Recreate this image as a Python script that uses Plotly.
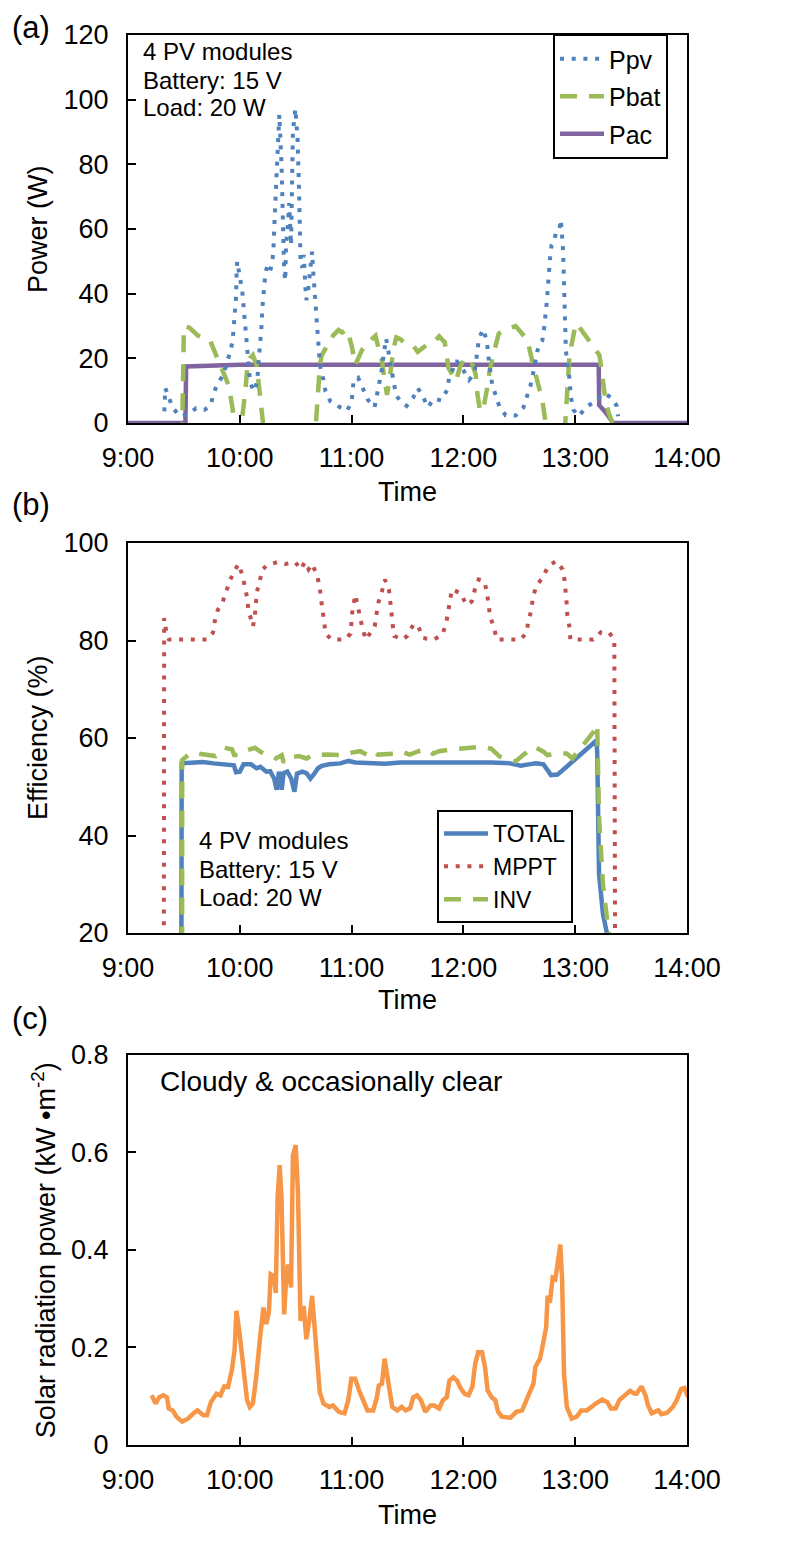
import plotly.graph_objects as go

# ---------------- data (x = minutes after 9:00) ----------------
tick_vals = [0, 60, 120, 180, 240, 300]
tick_text = ["9:00", "10:00", "11:00", "12:00", "13:00", "14:00"]

ppv_min = [19.5, 20.0, 21.8, 23.8, 27.8, 31.7, 36.6, 41.0, 44.4, 45.7,
           47.8, 51.1, 54.3, 55.9, 56.5, 57.0, 57.5, 58.0, 58.3, 58.6,
           60.2, 61.3, 61.8, 62.4, 62.9, 63.4, 64.0, 64.5, 65.0, 65.6,
           67.7, 69.4, 69.9, 70.4, 71.0, 71.5, 71.8, 72.0, 72.6, 73.0,
           73.7, 74.7, 76.3, 77.4, 78.0, 78.6, 79.3, 80.3, 81.2, 82.4,
           83.2, 83.8, 84.4, 84.8, 85.9, 86.5, 87.5, 88.5, 89.8, 91.0,
           91.8, 92.6, 93.5, 94.3, 95.2, 95.7, 96.5, 97.3, 98.2, 98.8,
           99.5, 100.2, 101.0, 101.5, 102.0, 102.5, 103.0, 104.0, 105.0, 106.0,
           108.6, 113.4, 117.5, 120.0, 120.6, 121.1, 123.5, 126.0, 128.7, 132.3,
           133.7, 135.0, 136.0, 136.8, 137.5, 138.5, 139.5, 140.5, 141.5, 142.5,
           143.8, 146.2, 149.5, 152.9, 155.5, 158.4, 161.0, 164.0, 168.0, 171.3,
           172.3, 176.3, 180.0, 183.0, 185.8, 186.8, 187.5, 188.3, 190.6, 192.3,
           193.2, 193.8, 195.5, 197.3, 199.3, 202.7, 208.0, 212.2, 214.3, 216.0,
           218.0, 219.7, 221.0, 222.4, 223.3, 223.7, 224.6, 225.1, 225.4, 226.0,
           226.5, 227.3, 228.6, 229.6, 231.4, 232.3, 233.1, 233.3, 233.6, 233.8,
           234.0, 234.1, 234.3, 234.5, 234.7, 234.8, 235.0, 236.7, 237.3, 237.8,
           239.0, 242.0, 245.7, 250.2, 255.2, 259.1, 262.2, 263.0]
ppv_w = [3.6, 10.8, 8.2, 4.9, 2.1, 2.5, 4.6, 4.1, 5.5, 8.6,
         12.0, 14.8, 21.0, 24.6, 28.0, 32.0, 35.7, 39.0, 46.8, 50.0,
         44.6, 41.0, 37.5, 34.0, 30.0, 26.7, 22.8, 19.4, 16.3, 12.3,
         9.8, 13.2, 17.5, 21.0, 24.0, 27.7, 31.0, 35.0, 38.8, 42.5,
         46.0, 48.6, 47.0, 49.8, 53.0, 62.0, 72.0, 85.0, 95.4, 80.0,
         60.0, 47.0, 44.0, 55.0, 62.0, 68.0, 55.0, 90.0, 97.2, 88.0,
         72.0, 50.0, 48.0, 52.0, 42.0, 38.0, 40.0, 44.0, 50.0, 53.0,
         46.0, 40.0, 35.0, 30.0, 26.0, 22.0, 18.0, 15.0, 13.3, 9.8,
         6.7, 5.0, 3.8, 6.4, 9.7, 13.3, 14.0, 11.0, 7.2, 4.9,
         8.7, 12.0, 15.7, 19.3, 23.0, 26.2, 23.0, 19.3, 15.7, 12.0,
         8.7, 6.7, 5.3, 7.7, 10.8, 8.0, 4.9, 7.5, 7.0, 10.2,
         13.8, 19.3, 16.3, 13.3, 15.2, 19.0, 22.2, 26.0, 29.0, 26.0,
         22.2, 18.5, 11.8, 8.7, 5.1, 2.4, 2.3, 4.8, 8.1, 11.6,
         17.0, 22.3, 24.5, 25.6, 29.2, 32.8, 36.4, 40.0, 43.8, 47.4,
         51.0, 54.9, 55.9, 58.8, 59.5, 62.9, 58.5, 55.4, 51.3, 47.7,
         44.0, 40.4, 36.7, 33.1, 29.4, 25.8, 22.3, 14.9, 11.3, 7.7,
         4.1, 2.1, 4.9, 6.5, 9.2, 8.0, 5.4, 2.1]

pbat_min = [29.0, 29.5, 30.0, 33.0, 37.6, 44.0, 47.5, 52.0, 54.0, 56.0,
            57.0, 58.5, 60.5, 62.0, 63.0, 64.0, 65.5, 67.0, 69.0, 70.0,
            71.0, 72.0, 73.5, 80.0, 90.0, 98.0, 100.5, 101.5, 103.0, 104.0,
            107.0, 110.0, 113.0, 115.0, 117.6, 120.0, 122.0, 125.6, 129.0, 132.8,
            134.5, 136.4, 137.5, 139.0, 140.5, 142.5, 144.0, 146.0, 149.0, 153.0,
            155.5, 158.6, 161.0, 164.0, 167.0, 170.0, 172.0, 174.0, 176.0, 178.0,
            180.0, 182.0, 184.0, 186.6, 187.5, 189.0, 190.5, 192.5, 194.0, 196.4,
            199.0, 203.0, 208.0, 211.0, 214.4, 217.0, 219.4, 221.0, 222.4, 224.0,
            226.0, 232.0, 234.0, 235.0, 236.0, 236.7, 238.0, 240.3, 243.0, 246.6,
            250.0, 253.0, 254.0, 256.0, 258.0, 260.0]
pbat_w = [-5, 10, 30, 29.5, 27, 25.6, 21, 14.5, 11.7, 5,
          0, -8, -2, 4, 10, 17, 20, 21, 18, 13,
          6, 0, -12, -40, -45, -20, -3, 5, 18, 21,
          24, 27, 28.8, 28, 29, 24, 18, 22.6, 25, 27,
          23, 19, 14, 8.7, 14, 23, 26.5, 26, 24.5, 24,
          22, 23.5, 24.5, 25, 26.8, 25, 17, 15, 13, 17,
          19.5, 20, 19.5, 15, 9, 3.7, 4, 10, 16, 22,
          27.7, 29, 30, 28, 25.5, 19, 13, 9, 6.8, 0.6,
          -15, -25, -5, 5, 10.8, 19, 24, 30.8, 29, 26,
          23, 21, 17, 8, 3, 0]

pac_min = [0, 30.8, 31.2, 60, 252.6, 252.9, 256, 259, 260.5, 300]
pac_w = [0, 0, 17.5, 18, 18, 5.5, 3.5, 1, 0, 0]

mppt_min = [19.2, 19.4, 20.6, 22.0, 42.5, 45.6, 46.6, 48.2, 50.7, 52.7,
            54.8, 57.3, 59.3, 61.4, 63.0, 64.0, 64.6, 66.0, 67.1, 68.1,
            68.7, 69.2, 70.8, 72.2, 74.9, 80.4, 84.5, 89.7, 92.8, 94.8,
            96.9, 98.9, 101.6, 103.0, 103.6, 104.5, 105.0, 106.1, 109.2, 116.4,
            119.4, 120.5, 122.0, 124.2, 125.6, 127.6, 132.4, 133.2, 134.4, 136.5,
            137.9, 140.0, 141.0, 141.4, 142.0, 143.0, 147.5, 150.0, 153.3, 155.8,
            158.4, 164.0, 168.7, 170.7, 171.8, 172.8, 173.8, 178.5, 181.6, 184.5,
            186.1, 188.2, 191.3, 192.7, 193.3, 194.3, 196.4, 198.0, 210.8, 213.8,
            214.9, 216.5, 217.3, 219.0, 222.7, 225.5, 229.6, 233.3, 234.3, 235.0,
            235.4, 235.8, 237.0, 237.4, 249.7, 253.8, 258.0, 261.0, 261.5]
mppt_eff = [0, 84.6, 81.8, 80.2, 80.2, 81.6, 84.0, 86.3, 87.8, 90.0,
            92.4, 94.4, 95.7, 93.4, 91.0, 88.7, 86.3, 84.0, 82.9, 85.3,
            87.7, 90.0, 92.4, 94.6, 95.5, 96.1, 95.7, 96.1, 94.6, 96.1,
            94.6, 95.7, 93.2, 90.7, 88.5, 86.2, 83.7, 81.4, 80.2, 80.2,
            81.4, 86.3, 89.4, 85.3, 82.9, 80.2, 82.9, 85.0, 87.8, 90.4,
            92.5, 90.5, 88.0, 85.8, 83.3, 80.9, 80.2, 81.0, 83.4, 82.9,
            80.5, 80.2, 81.2, 83.5, 85.8, 88.3, 90.5, 89.7, 87.3, 88.0,
            90.4, 92.5, 92.1, 89.7, 87.1, 85.0, 82.6, 80.2, 80.2, 81.6,
            84.0, 86.3, 88.9, 91.0, 93.1, 95.2, 96.3, 94.6, 92.4, 90.0,
            87.7, 85.1, 82.6, 80.2, 80.2, 81.7, 81.7, 80.2, 0]

total_min = [28.6, 28.8, 36.0, 40.0, 46.0, 56.8, 58.0, 60.0, 62.0, 66.0,
             69.0, 71.0, 74.3, 76.3, 78.4, 79.8, 81.0, 82.5, 83.5, 85.5,
             87.6, 89.3, 90.7, 93.5, 95.8, 97.9, 100.0, 102.0, 104.0, 108.0,
             114.0, 118.4, 122.0, 128.0, 138.0, 146.0, 155.0, 163.0, 172.0, 185.0,
             195.0, 205.0, 210.8, 215.0, 219.0, 223.0, 225.0, 227.0, 230.5, 233.3,
             235.4, 239.5, 243.6, 247.7, 251.4, 251.8, 252.2, 252.8, 254.9, 257.0, 257.5]
total_eff = [0, 54.8, 55.0, 55.1, 54.8, 54.4, 53.0, 53.1, 54.6, 54.6,
             53.8, 54.1, 53.1, 53.2, 51.7, 49.4, 53.1, 49.4, 52.8, 53.1,
             51.7, 49.0, 52.7, 53.1, 52.8, 51.7, 52.7, 53.8, 54.3, 54.6,
             54.8, 55.3, 55.0, 54.8, 54.7, 55.0, 55.0, 55.1, 55.0, 55.0,
             55.0, 54.8, 54.3, 54.6, 54.8, 54.6, 53.4, 52.4, 52.5, 53.6,
             54.1, 55.5, 56.8, 58.2, 59.5, 57.2, 43.6, 32.1, 23.9, 20.0, 0]

inv_min = [29.0, 29.1, 32.2, 35.0, 37.3, 42.0, 47.0, 51.7, 55.8, 57.0,
           60.0, 64.0, 68.1, 71.0, 74.3, 77.0, 79.4, 82.5, 83.5, 86.0,
           91.7, 95.8, 99.0, 107.1, 115.3, 120.0, 124.6, 128.7, 131.0, 134.0,
           140.0, 144.0, 147.0, 151.2, 156.0, 160.5, 163.6, 167.0, 172.0, 180.0,
           190.2, 195.0, 199.5, 204.6, 208.0, 213.0, 218.0, 223.0, 225.0, 230.0,
           235.4, 238.5, 241.5, 245.0, 249.7, 251.8, 252.3, 252.8, 254.9, 257.0,
           258.0, 258.2]
inv_eff = [0, 55.5, 56.5, 57.0, 56.8, 56.5, 56.3, 58.0, 57.7, 56.5,
           56.5, 57.5, 58.0, 57.2, 56.5, 56.3, 55.8, 56.5, 55.0, 56.0,
           56.3, 55.8, 56.5, 56.6, 56.5, 57.0, 57.3, 56.5, 57.3, 56.6,
           56.8, 56.8, 57.2, 56.6, 57.3, 57.7, 56.8, 57.3, 57.6, 57.8,
           58.2, 57.8, 56.2, 55.5, 55.2, 56.8, 58.2, 57.2, 56.5, 56.8,
           56.8, 55.8, 57.2, 59.0, 61.2, 62.8, 55.8, 43.6, 30.0, 21.9,
           20.0, 0]

solar_min = [12.7, 14.8, 16.8, 18.9, 20.9, 21.9, 24.0, 26.0, 29.1, 32.2,
             35.2, 37.3, 40.4, 42.4, 44.5, 47.5, 49.6, 51.6, 53.7, 55.7,
             57.2, 58.2, 59.8, 61.3, 62.5, 63.9, 65.4, 67.0, 68.6, 69.7,
             71.1, 72.7, 74.2, 75.6, 76.6, 78.3, 79.3, 80.3, 81.4, 82.4,
             83.8, 84.8, 85.9, 87.5, 88.5, 90.0, 91.2, 92.6, 94.3, 95.7,
             97.3, 98.8, 100.2, 101.4, 102.9, 104.9, 108.0, 110.0, 113.1, 116.2,
             118.2, 119.9, 121.9, 124.0, 126.4, 128.5, 131.6, 133.6, 134.6, 136.3,
             137.7, 139.1, 140.4, 141.8, 144.5, 146.9, 149.0, 151.4, 153.1, 155.1,
             157.2, 159.6, 162.3, 164.3, 167.0, 169.0, 171.1, 172.5, 174.6, 176.6,
             178.7, 180.7, 182.8, 184.8, 186.3, 187.9, 190.0, 191.6, 193.0, 195.1,
             197.1, 198.6, 200.6, 205.3, 208.4, 211.5, 214.5, 217.6, 218.6, 221.1,
             222.7, 224.4, 225.2, 226.4, 227.9, 229.3, 230.5, 232.0, 233.0, 234.0,
             235.5, 238.1, 240.8, 243.2, 246.3, 248.4, 251.4, 254.5, 257.2, 259.2,
             261.7, 263.7, 266.8, 269.5, 271.9, 272.9, 275.6, 277.7, 279.1, 281.1,
             284.6, 286.3, 289.3, 292.4, 294.5, 296.9, 298.6, 300.6]
solar_kw = [0.102, 0.085, 0.098, 0.102, 0.098, 0.075, 0.071, 0.058, 0.048, 0.054,
            0.065, 0.071, 0.061, 0.061, 0.088, 0.105, 0.102, 0.120, 0.119, 0.153,
            0.194, 0.275, 0.231, 0.173, 0.126, 0.092, 0.078, 0.085, 0.132, 0.187,
            0.228, 0.282, 0.248, 0.272, 0.350, 0.346, 0.312, 0.509, 0.574, 0.506,
            0.268, 0.336, 0.370, 0.323, 0.594, 0.615, 0.520, 0.255, 0.285, 0.217,
            0.255, 0.306, 0.234, 0.166, 0.109, 0.085, 0.078, 0.081, 0.068, 0.065,
            0.092, 0.136, 0.136, 0.112, 0.088, 0.071, 0.071, 0.098, 0.122, 0.126,
            0.177, 0.146, 0.112, 0.078, 0.071, 0.078, 0.071, 0.075, 0.098, 0.102,
            0.092, 0.068, 0.081, 0.081, 0.075, 0.092, 0.098, 0.132, 0.139, 0.132,
            0.115, 0.105, 0.102, 0.119, 0.166, 0.190, 0.190, 0.160, 0.112, 0.098,
            0.092, 0.068, 0.058, 0.056, 0.068, 0.071, 0.098, 0.126, 0.160, 0.177,
            0.207, 0.241, 0.306, 0.292, 0.343, 0.340, 0.370, 0.411, 0.336, 0.146,
            0.078, 0.054, 0.058, 0.071, 0.071, 0.078, 0.086, 0.093, 0.088, 0.075,
            0.075, 0.092, 0.102, 0.111, 0.105, 0.105, 0.120, 0.102, 0.081, 0.065,
            0.071, 0.063, 0.066, 0.078, 0.092, 0.115, 0.117, 0.098]

# ---------------- styling ----------------
FONT = "Liberation Sans, Arial, sans-serif"
BLUE, GREEN, PURPLE, RED, ORANGE = "#4F81BD", "#9BBB59", "#8064A2", "#C0504D", "#F79646"
DOT = "4px,7.7px"
LDASH = "17px,12px"

fig = go.Figure()

# panel (a)
fig.add_trace(go.Scatter(x=pac_min, y=pac_w, name="Pac", mode="lines",
                         line=dict(color=PURPLE, width=4.5), xaxis="x", yaxis="y",
                         legend="legend", legendgroup="pac", legendrank=3))
fig.add_trace(go.Scatter(x=pbat_min, y=pbat_w, name="Pbat", mode="lines",
                         line=dict(color=GREEN, width=4.5, dash=LDASH), xaxis="x", yaxis="y",
                         legend="legend", legendgroup="pbat", legendrank=2))
fig.add_trace(go.Scatter(x=ppv_min, y=ppv_w, name="Ppv", mode="lines",
                         line=dict(color=BLUE, width=4, dash=DOT), xaxis="x", yaxis="y",
                         legend="legend", legendgroup="ppv", legendrank=1))

# panel (b)
fig.add_trace(go.Scatter(x=mppt_min, y=mppt_eff, name="MPPT", mode="lines",
                         line=dict(color=RED, width=4, dash=DOT), xaxis="x2", yaxis="y2",
                         legend="legend2", legendrank=2))
fig.add_trace(go.Scatter(x=total_min, y=total_eff, name="TOTAL", mode="lines",
                         line=dict(color=BLUE, width=4.5), xaxis="x2", yaxis="y2",
                         legend="legend2", legendrank=1))
fig.add_trace(go.Scatter(x=inv_min, y=inv_eff, name="INV", mode="lines",
                         line=dict(color=GREEN, width=4.5, dash=LDASH), xaxis="x2", yaxis="y2",
                         legend="legend2", legendrank=3))

# panel (c)
fig.add_trace(go.Scatter(x=solar_min, y=solar_kw, name="Solar", mode="lines",
                         line=dict(color=ORANGE, width=4.5), xaxis="x3", yaxis="y3",
                         showlegend=False))

axis_common = dict(showline=True, linecolor="black", linewidth=2, mirror=True,
                   ticks="inside", ticklen=8, tickwidth=2, tickcolor="black",
                   showgrid=False, zeroline=False,
                   tickfont=dict(size=27, color="black", family=FONT))
xcommon = dict(axis_common, range=[0, 300], tickvals=tick_vals, ticktext=tick_text,
               ticklabelstandoff=10)
ycommon = dict(axis_common, ticklabelstandoff=12)

# page has an 8px body margin, so the figure is 8px smaller than the window
fig.update_layout(
    width=779, height=1543,
    margin=dict(l=120, r=100, t=16, b=106),
    paper_bgcolor="white", plot_bgcolor="white",
    font=dict(family=FONT, size=27, color="black"),
    xaxis=dict(xcommon, domain=[0, 1], anchor="y"),
    yaxis=dict(ycommon, domain=[0.7248, 1.0], anchor="x", range=[0, 120], dtick=20),
    xaxis2=dict(xcommon, domain=[0, 1], anchor="y2"),
    yaxis2=dict(ycommon, domain=[0.3631, 0.6397], anchor="x2", range=[20, 100], dtick=20),
    xaxis3=dict(xcommon, domain=[0, 1], anchor="y3"),
    yaxis3=dict(ycommon, domain=[0, 0.2766], anchor="x3", range=[0, 0.8], dtick=0.2),
    legend=dict(x=0.7603, y=1.0007, xanchor="left", yanchor="top",
                bordercolor="black", borderwidth=2, bgcolor="white",
                font=dict(size=25, family=FONT, color="black"),
                traceorder="grouped", tracegroupgap=2, itemwidth=44),
    legend2=dict(x=0.5528, y=0.4504, xanchor="left", yanchor="top",
                 bordercolor="black", borderwidth=2, bgcolor="white",
                 font=dict(size=23, family=FONT, color="black"),
                 traceorder="normal", itemwidth=44),
)

def ann(text, x, y, size, xanchor="left", angle=0):
    fig.add_annotation(text=text, x=x, y=y, xref="paper", yref="paper",
                       xanchor=xanchor, yanchor="middle", showarrow=False,
                       textangle=angle, font=dict(size=size, family=FONT, color="black"))

# panel labels
ann("(a)", -0.2111, 1.0055, 31)
ann("(b)", -0.2111, 0.6670, 31)
ann("(c)", -0.2111, 0.3025, 31)
# axis titles
ann("Power (W)", -0.161, 0.8624, 27, "center", -90)
ann("Efficiency (%)", -0.161, 0.5014, 27, "center", -90)
ann("Solar radiation power (kW •m<sup>-2</sup>)", -0.150, 0.1383, 27, "center", -90)
ann("Time", 0.5, 0.6760, 27, "center")
ann("Time", 0.5, 0.3157, 27, "center")
ann("Time", 0.5, -0.0495, 27, "center")
# notes
ann("4 PV modules", 0.0240, 0.9885, 24)
ann("Battery: 15 V", 0.0240, 0.9677, 24)
ann("Load: 20 W", 0.0240, 0.9483, 24)
ann("4 PV modules", 0.1240, 0.4290, 24)
ann("Battery: 15 V", 0.1240, 0.4079, 24)
ann("Load: 20 W", 0.1240, 0.3881, 24)
ann("Cloudy &amp; occasionally clear", 0.0540, 0.2575, 28)

fig.write_html("out.html")
